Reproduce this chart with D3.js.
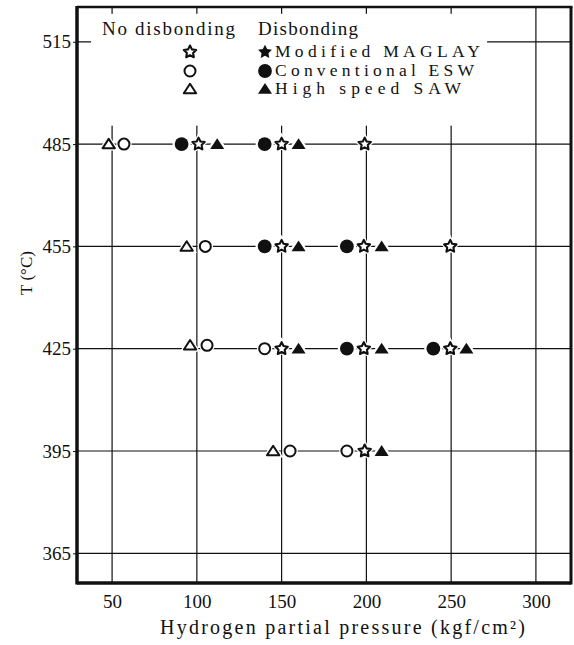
<!DOCTYPE html>
<html>
<head>
<meta charset="utf-8">
<script src="https://cdn.jsdelivr.net/npm/d3@7"></script>
<style>
body { margin: 0; background: #fff; }
</style>
</head>
<body>
<div class="demo"></div>
<script>
const w = 574, h = 645;
const serif = '"Liberation Serif", "DejaVu Serif", serif';

// values: [pressure kgf/cm2, temperature C]
const xTicks = [50, 100, 150, 200, 250, 300];
const yTicks = [365, 395, 425, 455, 485, 515];

const openTriangle = [[48, 485], [94, 455], [96, 426], [145, 395]];
const openCircle = [[57, 485], [105, 455], [106, 426], [140, 425], [155, 395], [188.5, 395]];
const openStar = [[101, 485], [150, 485], [199, 485], [150, 455], [198.5, 455], [249.5, 455],
                  [150, 425], [198.5, 425], [249.5, 425], [199, 395]];
const filledCircle = [[91, 485], [140, 485], [140, 455], [188.5, 455], [188.5, 425], [239.5, 425]];
const filledTriangle = [[112, 485], [160, 485], [160, 455], [209, 455], [160, 425], [209, 425],
                        [259, 425], [209, 395]];

const legendHeads = ['No disbonding', 'Disbonding'];
const legendLabels = ['Modified MAGLAY', 'Conventional ESW', 'High speed SAW'];
const legendShapes = ['star', 'circle', 'triangle'];

let xScale = d3.scaleLinear().domain([29.3, 320.7]).range([77, 571]);
let yScale = d3.scaleLinear().domain([356.3, 525.2]).range([583, 7]);

let svg = d3.select('.demo').append('svg').attr('width', w).attr('height', h);

// custom marker shapes (size = radius^2)
const starType = {draw(ctx, size) {
    const R = Math.sqrt(size), r = R * 0.5;
    for (let i = 0; i < 10; i++) {
        const a = -Math.PI / 2 + i * Math.PI / 5, rr = i % 2 ? r : R;
        i ? ctx.lineTo(rr * Math.cos(a), rr * Math.sin(a)) : ctx.moveTo(rr * Math.cos(a), rr * Math.sin(a));
    }
    ctx.closePath();
}};
const triType = {draw(ctx, size) {
    const s = Math.sqrt(size);
    ctx.moveTo(0, -0.55 * s); ctx.lineTo(0.65 * s, 0.45 * s); ctx.lineTo(-0.65 * s, 0.45 * s);
    ctx.closePath();
}};
const circType = {draw(ctx, size) { const r = Math.sqrt(size); ctx.moveTo(r, 0); ctx.arc(0, 0, r, 0, 2 * Math.PI); }};

const shapes = {
    star:     {open: {type: starType, s: 6.5, sw: 2.1}, filled: {type: starType, s: 7.3, sw: 0}},
    circle:   {open: {type: circType, s: 5.5, sw: 2}, filled: {type: circType, s: 6.9, sw: 0}},
    triangle: {open: {type: triType, s: 9.5, sw: 2}, filled: {type: triType, s: 10.8, sw: 0}}
};

// grid
svg.append('g').selectAll('line').data(xTicks).enter().append('line')
    .attr('x1', d => xScale(d)).attr('x2', d => xScale(d))
    .attr('y1', yScale.range()[0]).attr('y2', yScale.range()[1])
    .attr('stroke', '#111').attr('stroke-width', 1.2);
svg.append('g').selectAll('line').data(yTicks).enter().append('line')
    .attr('y1', d => yScale(d)).attr('y2', d => yScale(d))
    .attr('x1', xScale.range()[0]).attr('x2', xScale.range()[1])
    .attr('stroke', '#111').attr('stroke-width', 1.2);

// white area behind the legend
svg.append('rect')
    .attr('x', xScale(37.6)).attr('y', yScale(523.2))
    .attr('width', xScale(271.2) - xScale(37.6)).attr('height', yScale(490.4) - yScale(523.2))
    .attr('fill', '#fff');

// frame
const [x0, x1] = xScale.range(), [y0, y1] = yScale.range();
const frame = svg.append('g').attr('stroke', '#111').attr('fill', 'none');
frame.append('line').attr('x1', x0).attr('x2', x0).attr('y1', y1 - 1).attr('y2', y0 + 1.5).attr('stroke-width', 3.5);
frame.append('line').attr('x1', x0).attr('x2', x1).attr('y1', y0).attr('y2', y0).attr('stroke-width', 3.5);
frame.append('line').attr('x1', x0).attr('x2', x1 + 1.5).attr('y1', y1).attr('y2', y1).attr('stroke-width', 2.5);
frame.append('line').attr('x1', x1).attr('x2', x1).attr('y1', y1).attr('y2', y0 + 1.5).attr('stroke-width', 3);

// axes (labels only)
let xAxis = d3.axisBottom(xScale).tickValues(xTicks).tickSize(0).tickPadding(11.5);
let yAxis = d3.axisLeft(yScale).tickValues(yTicks).tickSize(4).tickSizeOuter(0).tickPadding(2);

let gx = svg.append('g').attr('transform', 'translate(0,' + y0 + ')').call(xAxis);
let gy = svg.append('g').attr('transform', 'translate(' + x0 + ',0)').call(yAxis);
[gx, gy].forEach(g => {
    g.attr('font-family', serif).attr('font-size', 19);
    g.select('.domain').remove();
    g.selectAll('text').attr('fill', '#111');
    g.selectAll('line').attr('stroke', '#111');
});

// markers
function drawSeries(data, shape, kind) {
    const st = shapes[shape][kind];
    const sym = d3.symbol().type(st.type).size(st.s * st.s);
    const g = svg.append('g');
    g.selectAll('path.halo').data(data).enter().append('path')
        .attr('transform', d => 'translate(' + xScale(d[0]) + ',' + yScale(d[1]) + ')')
        .attr('d', sym).attr('fill', '#fff').attr('stroke', '#fff').attr('stroke-width', 4.5);
    g.selectAll('path.mk').data(data).enter().append('path')
        .attr('transform', d => 'translate(' + xScale(d[0]) + ',' + yScale(d[1]) + ')')
        .attr('d', sym)
        .attr('fill', kind === 'open' ? '#fff' : '#111')
        .attr('stroke', '#111').attr('stroke-width', st.sw).attr('stroke-linejoin', 'round');
}
drawSeries(openTriangle, 'triangle', 'open');
drawSeries(openCircle, 'circle', 'open');
drawSeries(filledCircle, 'circle', 'filled');
drawSeries(filledTriangle, 'triangle', 'filled');
drawSeries(openStar, 'star', 'open');

// legend
const lg = svg.append('g').attr('font-family', serif).attr('fill', '#111');
lg.selectAll('text.head').data(legendHeads).enter().append('text')
    .attr('x', (d, i) => [102, 258][i]).attr('y', 35)
    .attr('font-size', 19)
    .attr('textLength', (d, i) => [133, 100][i]).attr('lengthAdjust', 'spacing')
    .text(d => d);
legendShapes.forEach((s, i) => {
    const rowY = [52, 71, 89][i];
    ['open', 'filled'].forEach((kind, k) => {
        const st = shapes[s][kind];
        lg.append('path')
            .attr('transform', 'translate(' + [190, 265][k] + ',' + rowY + ')')
            .attr('d', d3.symbol().type(st.type).size(st.s * st.s))
            .attr('fill', kind === 'open' ? '#fff' : '#111')
            .attr('stroke', '#111').attr('stroke-width', st.sw).attr('stroke-linejoin', 'round');
    });
});
lg.selectAll('text.lab').data(legendLabels).enter().append('text')
    .attr('x', 275).attr('y', (d, i) => [57, 75.5, 94][i])
    .attr('font-size', 17.5)
    .attr('textLength', (d, i) => [205, 199, 186][i]).attr('lengthAdjust', 'spacing')
    .text(d => d);

// axis titles
svg.append('text')
    .attr('x', 160).attr('y', 634)
    .attr('font-family', serif).attr('font-size', 20).attr('fill', '#111')
    .attr('textLength', 365).attr('lengthAdjust', 'spacing')
    .text('Hydrogen partial pressure (kgf/cm²)');
svg.append('text')
    .attr('transform', 'translate(32,273) rotate(-90)')
    .attr('text-anchor', 'middle')
    .attr('font-family', serif).attr('font-size', 17).attr('fill', '#111')
    .text('T (°C)');
</script>
</body>
</html>
